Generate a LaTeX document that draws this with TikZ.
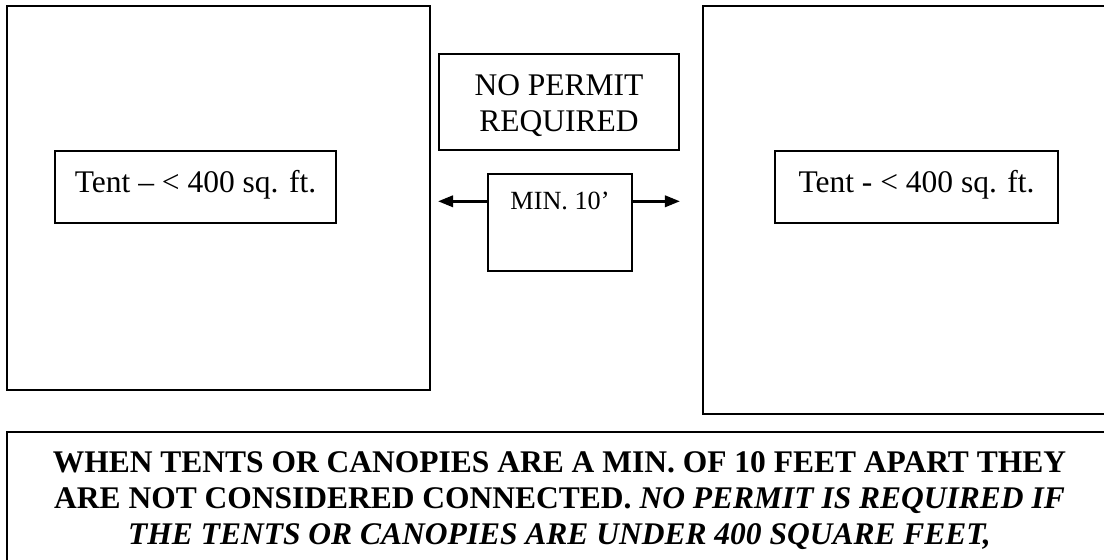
\documentclass[tikz,border=0pt]{standalone}
\usepackage{fontspec}
\setmainfont{Liberation Serif}
\usepackage{tikz}
\usetikzlibrary{arrows.meta, positioning}

\begin{document}
\begin{tikzpicture}[
    x=0.381pt, y=-0.381pt,
    tentarea/.style={rectangle, draw, line width=0.75pt, minimum width=161.2pt},
    tentlabel/.style={rectangle, draw, line width=0.75pt, minimum height=27.4pt, text depth=0.45em, font=\fontsize{12}{13.8}\selectfont},
    signbox/.style={rectangle, draw, line width=0.75pt},
    boxtext/.style={inner sep=0pt, align=center},
    arrow/.style={-{Triangle[length=5.7pt, width=4.3pt]}, line width=1pt}
]
\useasboundingbox (0,0) rectangle (1104,560);

\node[tentarea, minimum height=146.3pt] (left) at (218.5,198) {};
\node[tentarea, minimum height=155.4pt] (right) at (914.5,210) {};

\node[tentlabel, minimum width=107.1pt] (lefttent) at (195.5,187) {Tent -- < 400 sq. ft.};
\node[tentlabel, minimum width=107.8pt] (righttent) at (916.5,187) {Tent - < 400 sq. ft.};

\node[signbox, minimum width=91.4pt, minimum height=36.6pt] (permit) at (559,102) {};
\node[boxtext, font=\fontsize{12}{13.8}\selectfont, below=8pt of permit.north] (permittext) {NO PERMIT\\REQUIRED};

\node[signbox, minimum width=54.9pt, minimum height=37pt] (gap) at (560,222.5) {};
\node[boxtext, font=\fontsize{10}{12}\selectfont, below=7.2pt of gap.north] (gaptext) {MIN. 10’};

\draw[arrow] (gap.west |- gaptext) -- (permit.west |- gaptext);
\draw[arrow] (gap.east |- gaptext) -- (permit.east |- gaptext);

\node[signbox, minimum width=421pt, minimum height=72.4pt] (note) at (559.5,527) {};
\node[boxtext, font=\fontsize{12}{13.8}\selectfont\bfseries, below=7.6pt of note.north] (notetext) {WHEN TENTS OR CANOPIES ARE A MIN. OF 10 FEET APART THEY\\ARE NOT CONSIDERED CONNECTED. \textit{NO PERMIT IS REQUIRED IF}\\\textit{THE TENTS OR CANOPIES ARE UNDER 400 SQUARE FEET,}};

\end{tikzpicture}
\end{document}
